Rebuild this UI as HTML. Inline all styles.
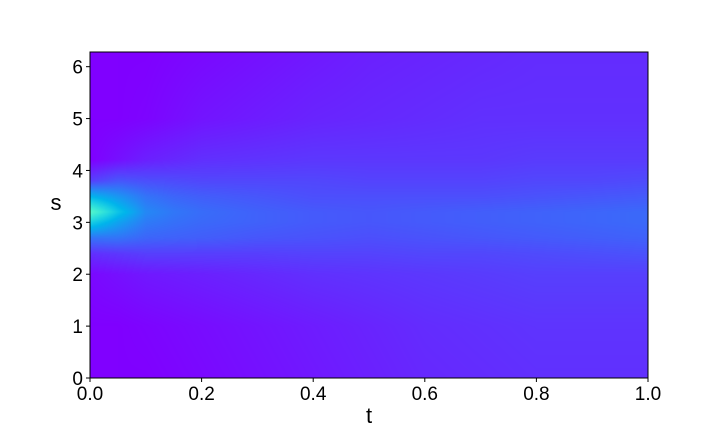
<!DOCTYPE html>
<html><head><meta charset="utf-8"><style>
body{margin:0;background:#fff;}
#wrap{position:relative;width:720px;height:432px;font-family:"Liberation Sans",sans-serif;}
canvas{position:absolute;left:90px;top:52px;}
svg{position:absolute;left:0;top:0;}
</style></head><body>
<div id="wrap">
<canvas id="hm" width="558" height="326"></canvas>
<svg id="ax" width="720" height="432"></svg>
</div>
<script>
const tVals=[0,0.05,0.1,0.15,0.2,0.3,0.4,0.5,0.6,0.7,0.8,0.9,1.0];
const sVals=[0,1,2,2.4,2.7,3.0,3.2,3.5,3.8,4.2,5,6.283];
const zRows=[
[0,0,0,0.005,0.01,0.02,0.03,0.04,0.05,0.055,0.06,0.06,0.06],
[0,0,0.005,0.01,0.015,0.025,0.035,0.045,0.055,0.06,0.065,0.065,0.065],
[0.01,0.02,0.03,0.035,0.04,0.05,0.06,0.065,0.07,0.075,0.08,0.08,0.08],
[0.06,0.07,0.08,0.08,0.08,0.08,0.085,0.085,0.09,0.09,0.095,0.1,0.105],
[0.15,0.15,0.13,0.125,0.12,0.11,0.105,0.1,0.105,0.11,0.115,0.12,0.125],
[0.3,0.22,0.16,0.145,0.135,0.125,0.115,0.11,0.115,0.12,0.125,0.13,0.135],
[0.42,0.28,0.18,0.155,0.14,0.125,0.115,0.11,0.115,0.12,0.125,0.13,0.135],
[0.25,0.2,0.15,0.13,0.12,0.11,0.1,0.1,0.1,0.1,0.105,0.11,0.115],
[0.08,0.11,0.1,0.095,0.09,0.09,0.09,0.085,0.085,0.085,0.09,0.09,0.095],
[0,0.02,0.04,0.05,0.06,0.065,0.07,0.07,0.07,0.07,0.075,0.075,0.075],
[0,0,0.005,0.015,0.025,0.035,0.045,0.05,0.055,0.06,0.06,0.06,0.06],
[0,0,0,0.005,0.01,0.02,0.03,0.04,0.045,0.05,0.055,0.055,0.055]];
const xTicks=[0,0.2,0.4,0.6,0.8,1.0];
const xTickLabels=["0.0","0.2","0.4","0.6","0.8","1.0"];
const yTicks=[0,1,2,3,4,5,6];
const X0=90,X1=648,Y0=378,Y1=52,SMAX=6.283;
const xs=t=>X0+(X1-X0)*t;
const ys=s=>Y0-(Y0-Y1)*s/SMAX;
function seg(arr,v){let i=0;while(i<arr.length-2&&v>arr[i+1])i++;const f=Math.min(1,Math.max(0,(v-arr[i])/(arr[i+1]-arr[i])));return [i,f];}
function rainbow(x){x=Math.max(0,Math.min(1,x));return [Math.abs(2*x-0.5),Math.sin(Math.PI*x),Math.cos(Math.PI*x/2)].map(c=>Math.round(255*Math.min(1,Math.max(0,c))));}
const cv=document.getElementById('hm'),ctx=cv.getContext('2d');
const W=cv.width,H=cv.height,img=ctx.createImageData(W,H);
for(let py=0;py<H;py++){const s=(H-py-0.5)/H*SMAX;const [j,fy]=seg(sVals,s);
for(let px=0;px<W;px++){const t=(px+0.5)/W;const [i,fx]=seg(tVals,t);
const a=zRows[j][i]*(1-fx)+zRows[j][i+1]*fx,b=zRows[j+1][i]*(1-fx)+zRows[j+1][i+1]*fx;
const c=rainbow(a*(1-fy)+b*fy);const k=(py*W+px)*4;img.data[k]=c[0];img.data[k+1]=c[1];img.data[k+2]=c[2];img.data[k+3]=255;}}
ctx.putImageData(img,0,0);
const svg=document.getElementById('ax'),NS='http://www.w3.org/2000/svg';
function mk(tag,at,txt){const e=document.createElementNS(NS,tag);for(const k in at)e.setAttribute(k,at[k]);if(txt!==undefined)e.textContent=txt;svg.appendChild(e);return e;}
let e=mk('rect',{x:X0,y:Y1,width:X1-X0,height:Y0-Y1,fill:'none',stroke:'#000','stroke-width':1});


xTicks.forEach((t,i)=>{let l=mk('line',{x1:xs(t),x2:xs(t),y1:Y0,y2:Y0+4,stroke:'#000'});


let tx=mk('text',{x:xs(t),y:Y0+22,'font-size':19,'text-anchor':'middle'},xTickLabels[i]);

});
yTicks.forEach(s=>{let l=mk('line',{x1:X0-4,x2:X0,y1:ys(s),y2:ys(s),stroke:'#000'});


let tx=mk('text',{x:X0-7,y:ys(s)+7,'font-size':19,'text-anchor':'end'},String(s));

});
e=mk('text',{x:369,y:423,'font-size':22,'text-anchor':'middle'},'t');


e=mk('text',{x:56,y:210,'font-size':22,'text-anchor':'middle'},'s');


</script>
</body></html>
